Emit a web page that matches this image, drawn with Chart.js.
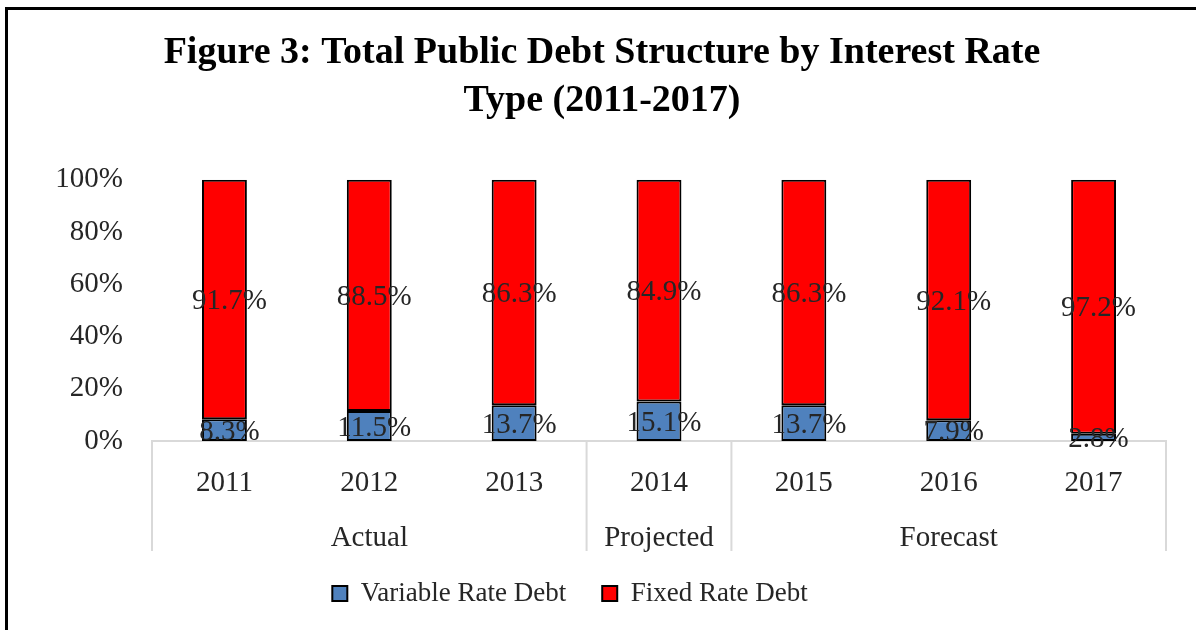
<!DOCTYPE html>
<html>
<head>
<meta charset="utf-8">
<script src="https://cdn.jsdelivr.net/npm/chart.js@4"></script>
<style>
  html, body { margin: 0; padding: 0; background: #fff; }
  #wrap { position: relative; width: 1196px; height: 630px; overflow: hidden; }
  #frame { position: absolute; left: 5px; top: 7px; width: 1300px; height: 700px;
           border-left: 3px solid #000; border-top: 3px solid #000; }
  canvas { position: absolute; left: 0; top: 0; }
</style>
</head>
<body>
<div id="wrap">
  <div id="frame"></div>
  <canvas id="myChart" width="1196" height="630"></canvas>
</div>
<script>
// chart data
const years = ['2011', '2012', '2013', '2014', '2015', '2016', '2017'];
const variableRate = [8.3, 11.5, 13.7, 15.1, 13.7, 7.9, 2.8];
const fixedRate = [91.7, 88.5, 86.3, 84.9, 86.3, 92.1, 97.2];
const groupNames = ['Actual', 'Projected', 'Forecast'];
const groupFirst = [0, 3, 4];
const groupLast = [2, 3, 6];
const yTicks = [0, 20, 40, 60, 80, 100];

const FONT = "'Liberation Serif', 'DejaVu Serif', serif";
const TEXT = '#262626';
const LINE = '#d9d9d9';

// value labels in the middle of each segment
const valueLabels = {
    id: 'valueLabels',
    afterDatasetsDraw(chart) {
        const ctx = chart.ctx;
        ctx.save();
        ctx.font = '29px ' + FONT;
        ctx.fillStyle = TEXT;
        ctx.textAlign = 'center';
        ctx.textBaseline = 'middle';
        chart.data.datasets.forEach((ds, i) => {
            chart.getDatasetMeta(i).data.forEach((bar, j) => {
                const p = bar.getProps(['x', 'y', 'base'], true);
                ctx.fillText(ds.data[j].toFixed(1) + '%', p.x + 5, (p.y + p.base) / 2 + 2);
            });
        });
        ctx.restore();
    }
};

// second level of the category axis (Actual / Projected / Forecast)
const groupAxis = {
    id: 'groupAxis',
    afterLayout(chart) {
        // legend sits a little left of centre in the original
        chart.legend.right -= 64;
    },
    afterDraw(chart) {
        const ctx = chart.ctx;
        const x = chart.scales.x;
        const half = (x.getPixelForValue(1) - x.getPixelForValue(0)) / 2;
        const top = chart.chartArea.bottom;
        const bottom = top + 110;
        ctx.save();
        ctx.strokeStyle = LINE;
        ctx.lineWidth = 2;
        const edges = [x.getPixelForValue(0) - half];
        groupLast.forEach(k => edges.push(x.getPixelForValue(k) + half));
        edges.forEach(px => {
            ctx.beginPath();
            ctx.moveTo(px, top);
            ctx.lineTo(px, bottom);
            ctx.stroke();
        });
        ctx.font = '29px ' + FONT;
        ctx.fillStyle = TEXT;
        ctx.textAlign = 'center';
        ctx.textBaseline = 'middle';
        groupNames.forEach((name, g) => {
            const cx = (x.getPixelForValue(groupFirst[g]) + x.getPixelForValue(groupLast[g])) / 2;
            ctx.fillText(name, cx, top + 97);
        });
        ctx.restore();
    }
};

const ctx = document.getElementById('myChart').getContext('2d');
const myChart = new Chart(ctx, {
    type: 'bar',
    data: {
        labels: years,
        datasets: [{
            label: 'Variable Rate Debt',
            data: variableRate,
            backgroundColor: '#4f81bd',
            borderColor: '#000',
            borderWidth: 2,
            borderSkipped: false
        }, {
            label: 'Fixed Rate Debt',
            data: fixedRate,
            backgroundColor: '#ff0000',
            borderColor: '#000',
            borderWidth: 2,
            borderSkipped: false
        }]
    },
    options: {
        responsive: false,
        animation: false,
        layout: { padding: { left: 38, right: 30, top: 0, bottom: 13 } },
        datasets: { bar: { categoryPercentage: 1, barPercentage: 0.31 } },
        scales: {
            x: {
                stacked: true,
                grid: { display: false },
                border: { display: true, color: LINE, width: 2 },
                ticks: { color: TEXT, font: { family: FONT, size: 29 }, padding: 17, maxRotation: 0 },
                afterFit(scale) { scale.height = 103; }
            },
            y: {
                stacked: true,
                min: 0,
                max: 100,
                afterBuildTicks(scale) { scale.ticks = yTicks.map(v => ({ value: v })); },
                grid: { display: false, drawTicks: false },
                border: { display: false },
                ticks: {
                    color: TEXT,
                    font: { family: FONT, size: 29 },
                    padding: 29,
                    callback: v => v + '%'
                },
                afterFit(scale) { scale.width = 114; }
            }
        },
        plugins: {
            title: {
                display: true,
                text: ['Figure 3: Total Public Debt Structure by Interest Rate', 'Type (2011-2017)'],
                color: '#000',
                font: { family: FONT, size: 38, weight: 'bold', lineHeight: 1.26 },
                padding: { top: 29, bottom: 55 }
            },
            legend: {
                position: 'bottom',
                labels: {
                    color: TEXT,
                    font: { family: FONT, size: 27 },
                    boxWidth: 15,
                    boxHeight: 15,
                    padding: 36
                }
            },
            tooltip: { enabled: false }
        }
    },
    plugins: [valueLabels, groupAxis]
});
</script>
</body>
</html>
